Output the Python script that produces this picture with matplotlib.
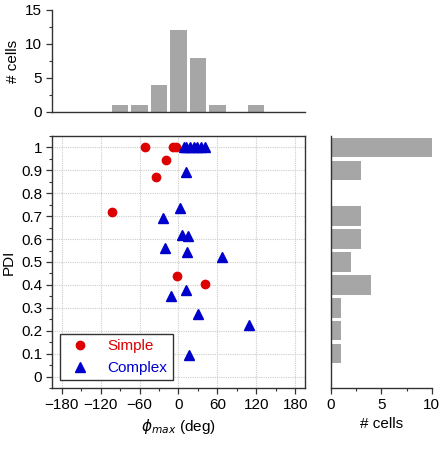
import numpy as np
import matplotlib
matplotlib.use("Agg")
import matplotlib.pyplot as plt
from matplotlib.ticker import MultipleLocator, NullLocator

plt.rcParams['font.family'] = ['Liberation Sans', 'DejaVu Sans']
plt.rcParams['font.size'] = 11

# Simple cells
simple_phi = [-52, -8, -4, -20, -34, -103, -2, 41]
simple_pdi = [1.0, 1.0, 1.0, 0.946, 0.872, 0.717, 0.44, 0.403]

# Complex cells
complex_phi = [8, 12, 17, 24, 29, 35, 41,
               12, 2, -24, 5, 14, -21, 13, 67, 11, -12, 30, 109, 16]
complex_pdi = [1.0, 1.0, 1.0, 1.0, 1.0, 1.0, 1.0,
               0.894, 0.735, 0.693, 0.618, 0.615, 0.561, 0.545, 0.522,
               0.379, 0.352, 0.273, 0.225, 0.095]

phi_bins = np.arange(-195, 196, 30)
pdi_bins = np.arange(-0.05, 1.06, 0.1)

bar_col = '#a6a6a6'
spine_col = '#333333'

fig = plt.figure(figsize=(4.42, 4.53), dpi=100)
ax = fig.add_axes([0.1176, 0.1435, 0.5724, 0.5563])
axt = fig.add_axes([0.1176, 0.7528, 0.5724, 0.2252])
axr = fig.add_axes([0.748, 0.1435, 0.229, 0.5563])

# main scatter
ax.plot(simple_phi, simple_pdi, 'o', color='#dd0000', ms=6, label='Simple', zorder=3)
ax.plot(complex_phi, complex_pdi, '^', color='#0000cc', ms=7, label='Complex', zorder=3)
ax.set_xlim(-195, 195)
ax.set_ylim(-0.05, 1.05)
ax.xaxis.set_major_locator(MultipleLocator(60))
ax.xaxis.set_minor_locator(MultipleLocator(30))
ax.yaxis.set_minor_locator(MultipleLocator(0.05))
ax.set_yticks(np.arange(0, 1.01, 0.1))
ax.set_yticklabels(['0', '0.1', '0.2', '0.3', '0.4', '0.5', '0.6', '0.7', '0.8', '0.9', '1'])
ax.grid(True, which='major', color='#cccccc', ls=(0, (1, 1)), lw=0.8)
ax.set_xlabel(r'$\phi_{max}$ (deg)')
ax.set_ylabel('PDI')
leg = ax.legend(loc='lower left', fancybox=False, edgecolor='#333333',
                framealpha=1, handletextpad=0.8, borderpad=0.35,
                bbox_to_anchor=(0.0, 0.0), fontsize=11)
leg.get_frame().set_linewidth(1.0)
for t, c in zip(leg.get_texts(), ['#dd0000', '#0000cc']):
    t.set_color(c)

# top histogram
all_phi = simple_phi + complex_phi
counts_phi, _ = np.histogram(all_phi, bins=phi_bins)
centers_phi = phi_bins[:-1] + 15
axt.bar(centers_phi, counts_phi, width=25, color=bar_col)
axt.set_xlim(-195, 195)
axt.set_ylim(0, 15)
axt.yaxis.set_major_locator(MultipleLocator(5))
axt.yaxis.set_minor_locator(MultipleLocator(2.5))
axt.xaxis.set_major_locator(NullLocator())
axt.set_ylabel('# cells')
for s in ['top', 'right']:
    axt.spines[s].set_visible(False)

# right histogram
all_pdi = simple_pdi + complex_pdi
counts_pdi, _ = np.histogram(all_pdi, bins=pdi_bins)
centers_pdi = pdi_bins[:-1] + 0.05
axr.barh(centers_pdi, counts_pdi, height=0.085, color=bar_col)
axr.set_ylim(-0.05, 1.05)
axr.set_xlim(0, 10)
axr.xaxis.set_major_locator(MultipleLocator(5))
axr.xaxis.set_minor_locator(MultipleLocator(2.5))
axr.yaxis.set_major_locator(NullLocator())
axr.set_xlabel('# cells')
for s in ['top', 'right']:
    axr.spines[s].set_visible(False)

for a in [ax, axt, axr]:
    for s in a.spines.values():
        s.set_color(spine_col)
        s.set_linewidth(1.0)
    a.tick_params(which='major', direction='out', length=4, width=0.9, color=spine_col,
                  labelsize=11, pad=3)
    a.tick_params(which='minor', direction='out', length=2.5, width=0.8, color=spine_col)

fig.savefig('out.png', dpi=100)
